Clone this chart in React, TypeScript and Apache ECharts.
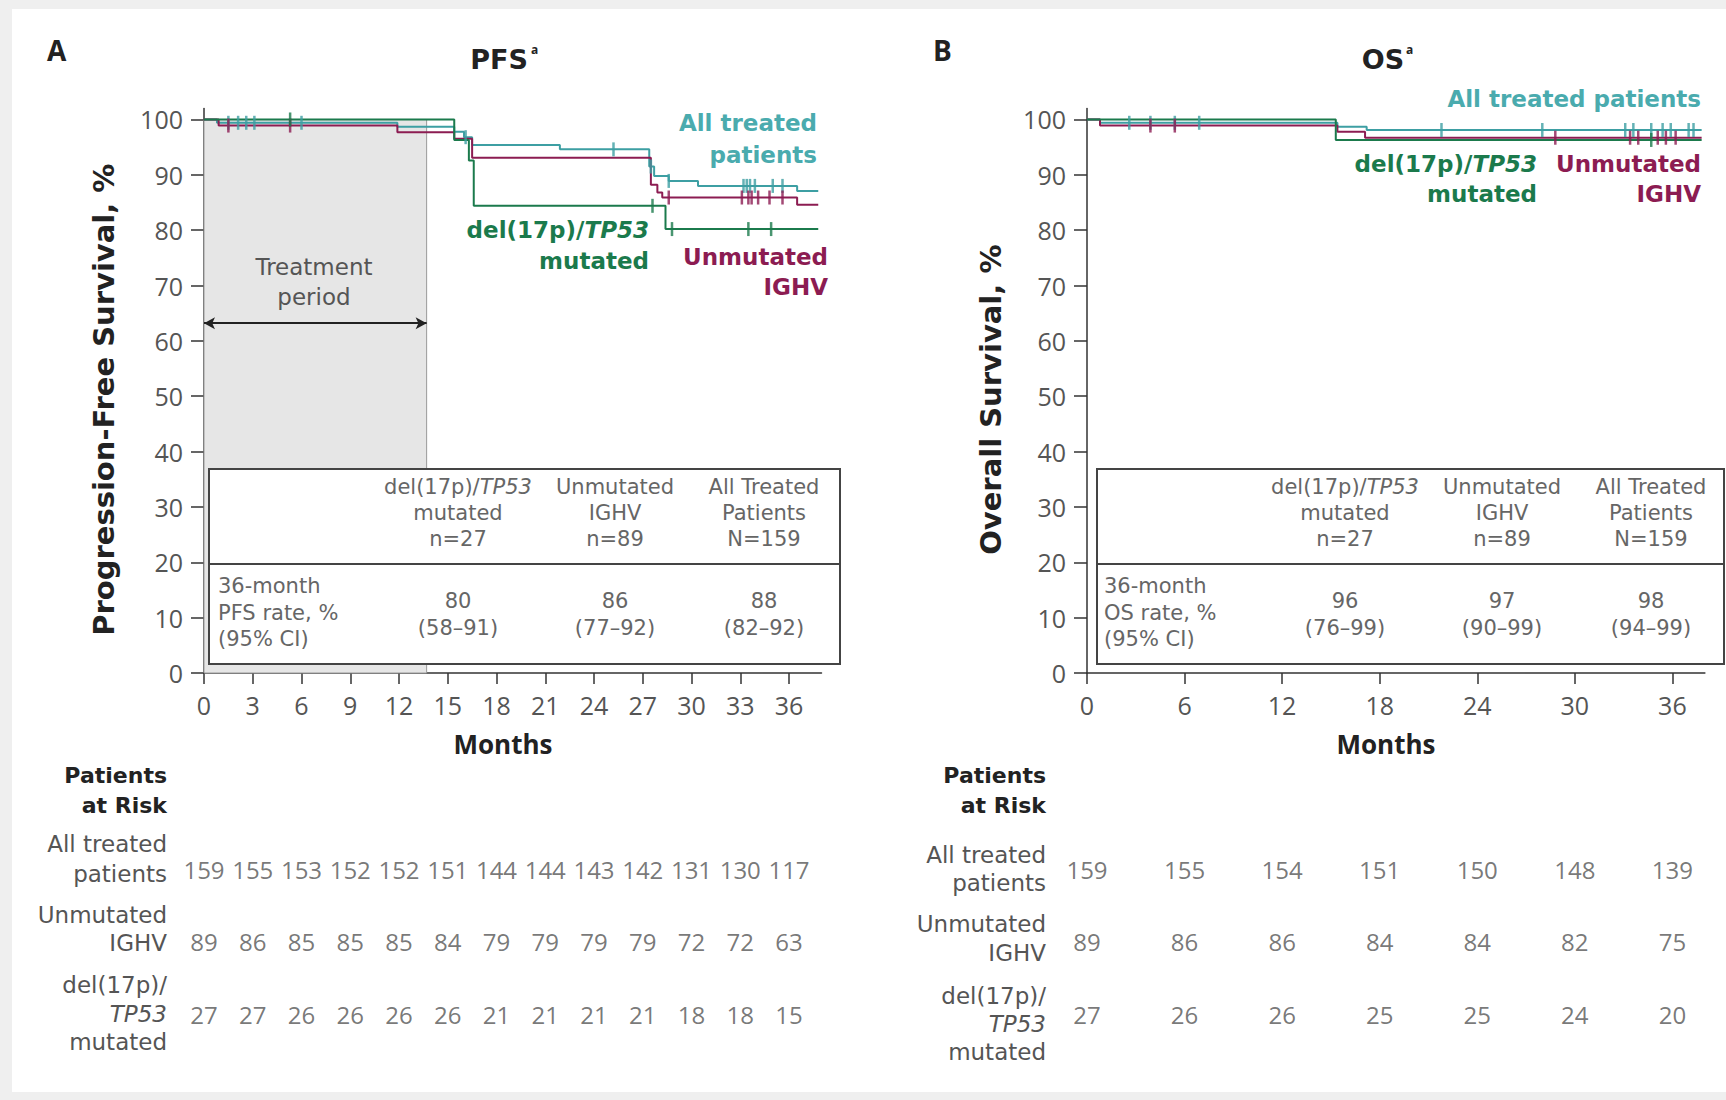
import React, { useEffect, useRef } from "react";
import * as echarts from "echarts";

// ---------- data ----------
const pfsXTicks = [0, 3, 6, 9, 12, 15, 18, 21, 24, 27, 30, 33, 36];
const osXTicks = [0, 6, 12, 18, 24, 30, 36];
const yTicks = [0, 10, 20, 30, 40, 50, 60, 70, 80, 90, 100];

// Kaplan-Meier steps [month, survival %]
const pfsAll = [[0, 100], [0.8, 99.4], [11.9, 98.7], [15.4, 97.8], [16.0, 96.8], [16.5, 95.4], [21.9, 94.6], [27.4, 91.5], [27.7, 89.8], [28.6, 88.9], [30.4, 88.0], [36.5, 87.1], [37.8, 87.1]];
const pfsUnmut = [[0, 100], [0.9, 98.9], [11.9, 97.7], [15.4, 96.5], [16.5, 93.1], [27.5, 88.2], [27.9, 86.8], [28.2, 85.9], [36.5, 84.6], [37.8, 84.6]];
const pfsDel = [[0, 100], [15.4, 96.3], [16.3, 92.6], [16.6, 84.4], [28.4, 80.2], [37.8, 80.2]];

const pfsAllCens = [[1.5, 99.4], [2.1, 99.4], [2.6, 99.4], [3.1, 99.4], [6.0, 99.4], [16.1, 96.8], [25.2, 94.6], [27.5, 91.5], [28.6, 88.9], [33.2, 88.0], [33.4, 88.0], [33.6, 88.0], [33.9, 88.0], [35.0, 88.0], [35.6, 88.0]];
const pfsUnmutCens = [[1.5, 98.9], [5.3, 98.9], [28.6, 85.9], [33.1, 85.9], [33.5, 85.9], [33.7, 85.9], [34.1, 85.9], [34.8, 85.9], [35.6, 85.9]];
const pfsDelCens = [[5.3, 100], [27.6, 84.4], [28.8, 80.2], [33.5, 80.2], [34.9, 80.2]];

const osAll = [[0, 100], [0.8, 99.4], [15.4, 98.7], [17.2, 98.1], [37.8, 98.1]];
const osUnmut = [[0, 100], [0.8, 98.9], [15.4, 97.8], [17.1, 96.7], [37.8, 96.7]];
const osDel = [[0, 100], [15.3, 96.3], [37.8, 96.3]];

const osAllCens = [[2.6, 99.4], [3.9, 99.4], [5.4, 99.4], [6.9, 99.4], [21.8, 98.1], [28.0, 98.1], [33.1, 98.1], [33.6, 98.1], [34.7, 98.1], [35.4, 98.1], [35.9, 98.1], [37.0, 98.1], [37.3, 98.1]];
const osUnmutCens = [[3.9, 98.9], [5.4, 98.9], [28.8, 96.7], [33.4, 96.7], [33.9, 96.7], [35.1, 96.7], [35.6, 96.7], [36.2, 96.7]];
const osDelCens = [[34.7, 96.3]];

const treatmentEnd = 13.7;
const arrowLevel = 63.2;

// patients at risk
const pfsRiskAll = [159, 155, 153, 152, 152, 151, 144, 144, 143, 142, 131, 130, 117];
const pfsRiskUnmut = [89, 86, 85, 85, 85, 84, 79, 79, 79, 79, 72, 72, 63];
const pfsRiskDel = [27, 27, 26, 26, 26, 26, 21, 21, 21, 21, 18, 18, 15];
const osRiskAll = [159, 155, 154, 151, 150, 148, 139];
const osRiskUnmut = [89, 86, 86, 84, 84, 82, 75];
const osRiskDel = [27, 26, 26, 25, 25, 24, 20];

// inset tables
const insetHeaders = [
  "{n|del(17p)/}{i|TP53}\n{n|mutated}\n{n|n=27}",
  "{n|Unmutated}\n{n|IGHV}\n{n|n=89}",
  "{n|All Treated}\n{n|Patients}\n{n|N=159}",
];
const pfsRates = ["80", "86", "88"];
const pfsCIs = ["(58–91)", "(77–92)", "(82–92)"];
const osRates = ["96", "97", "98"];
const osCIs = ["(76–99)", "(90–99)", "(94–99)"];
const pfsRateLabel = "36-month\nPFS rate, %\n(95% CI)";
const osRateLabel = "36-month\nOS rate, %\n(95% CI)";

// ---------- styles ----------
const FF = '"Open Sans", "Liberation Sans", sans-serif';
const FW = '"DejaVu Sans", "Open Sans", sans-serif';
const TEAL = "#3d9fa3";
const TEAL_T = "#4aabae";
const MAG = "#8c1c52";
const GREEN = "#1b7a4c";
const GRAY = "#555555";
const LGRAY = "#666666";
const DARK = "#222222";

function txt(x: number, y: number, text: string, o: any = {}) {
  const size = o.size || 22;
  const lh = o.lh || size;
  const base = {
    fontSize: size,
    fontWeight: o.weight || "normal",
    fontFamily: o.family || FF,
    fill: o.fill || GRAY,
    lineHeight: lh,
  };
  return {
    type: "text",
    x,
    y,
    z: 120,
    style: {
      text,
      ...base,
      fontStyle: o.style || "normal",
      align: o.align || "center",
      verticalAlign: "middle",
      rich: o.rich
        ? { n: { ...base }, i: { ...base, fontStyle: "italic" } }
        : undefined,
    },
  };
}

function inset(x0: number, x1: number, cols: number[], labelX: number, rateLabel: string, rates: string[], cis: string[]) {
  const els: any[] = [];
  const o = { fill: LGRAY, size: 21, family: FW };
  els.push({ type: "rect", z: 110, shape: { x: x0, y: 469, width: x1 - x0, height: 195 }, style: { fill: "#fff", stroke: "#444", lineWidth: 2 } });
  els.push({ type: "line", z: 111, shape: { x1: x0, y1: 564, x2: x1, y2: 564 }, style: { stroke: "#444", lineWidth: 2 } });
  cols.forEach((cx, i) => {
    els.push(txt(cx, 513, insetHeaders[i], { ...o, lh: 26, rich: true }));
    els.push(txt(cx, 614.5, rates[i] + "\n" + cis[i], { ...o, lh: 27 }));
  });
  els.push(txt(labelX, 612.5, rateLabel, { ...o, lh: 26.5, align: "left" }));
  return els;
}

function riskLabels(rx: number, c: number[], lh: number[]) {
  const r = { fill: GRAY, size: 23, align: "right", family: FW };
  return [
    txt(rx, 790, "Patients\nat Risk", { fill: DARK, size: 22, weight: "bold", align: "right", lh: 30, family: FW }),
    txt(rx, c[0], "All treated\npatients", { ...r, lh: lh[0] }),
    txt(rx, c[1], "Unmutated\nIGHV", { ...r, lh: lh[1] }),
    txt(rx, c[2], "{n|del(17p)/}\n{i|TP53}\n{n|mutated}", { ...r, lh: lh[2], rich: true }),
  ];
}

function km(name: string, data: number[][], color: string, ax: number) {
  return {
    name,
    type: "line",
    step: "end",
    xAxisIndex: ax,
    yAxisIndex: ax,
    data,
    showSymbol: false,
    symbol: "none",
    lineStyle: { color, width: 2 },
    z: 3,
  };
}
function cens(data: number[][], color: string, ax: number) {
  return {
    type: "scatter",
    xAxisIndex: ax,
    yAxisIndex: ax,
    data,
    symbol: "rect",
    symbolSize: [2.5, 14],
    itemStyle: { color },
    z: 4,
  };
}
function risk(months: number[], rows: number[][], ax: number) {
  const data: any[] = [];
  rows.forEach((row, ri) => row.forEach((v, i) => data.push([months[i], ri, v])));
  return {
    type: "scatter",
    xAxisIndex: ax,
    yAxisIndex: ax,
    data,
    symbolSize: 1,
    itemStyle: { color: "rgba(0,0,0,0)" },
    label: {
      show: true,
      position: "inside",
      formatter: (p: any) => String(p.value[2]),
      color: GRAY,
      fontSize: 24,
      fontFamily: FF,
    },
  };
}

function mainX(ticks: number[], grid: number) {
  return {
    type: "value",
    gridIndex: grid,
    min: 0,
    max: 38,
    axisLine: { show: true, lineStyle: { color: "#333", width: 1.5 } },
    axisTick: { show: true, length: 11, customValues: ticks, lineStyle: { color: "#333", width: 1.5 } },
    axisLabel: { customValues: ticks, margin: 19, color: GRAY, fontSize: 25, fontFamily: FF },
    splitLine: { show: false },
  };
}
function mainY(grid: number, name: string, gap: number) {
  return {
    type: "value",
    gridIndex: grid,
    min: 0,
    max: 102,
    axisLine: { show: true, lineStyle: { color: "#333", width: 1.5 } },
    axisTick: { show: true, length: 13, customValues: yTicks, lineStyle: { color: "#333", width: 1.5 } },
    axisLabel: { customValues: yTicks, margin: 21, color: GRAY, fontSize: 25, fontFamily: FF },
    splitLine: { show: false },
    name,
    nameLocation: "middle",
    nameGap: gap,
    nameTextStyle: { color: DARK, fontSize: 29, fontWeight: "bold", fontFamily: FW, padding: [0, 18, 0, 0] },
  };
}

export default function App() {
  const ref = useRef<HTMLDivElement>(null);
  useEffect(() => {
    if (!ref.current) return;
    const chart = echarts.init(ref.current, undefined, { renderer: "svg" });
    const boldLbl = (fill: string, lh: number) => ({ fill, size: 23, weight: "bold", align: "right", lh, family: FW });
    const graphic: any[] = [
      { type: "rect", z: -10, shape: { x: 12, y: 9, width: 1714, height: 1083 }, style: { fill: "#ffffff" } },
      txt(47, 50, "A", { fill: DARK, size: 28, weight: "bold", align: "left" }),
      txt(933, 50, "B", { fill: DARK, size: 28, weight: "bold", align: "left" }),
      txt(499, 59, "PFS", { fill: DARK, size: 27, weight: "bold", family: FW }),
      txt(531, 49, "a", { fill: DARK, size: 12, weight: "bold", align: "left" }),
      txt(1383, 59, "OS", { fill: DARK, size: 27, weight: "bold", family: FW }),
      txt(1406, 49, "a", { fill: DARK, size: 12, weight: "bold", align: "left" }),
      txt(314, 282, "Treatment\nperiod", { fill: GRAY, size: 23, lh: 30, family: FW }),
      txt(503, 744, "Months", { fill: DARK, size: 26, weight: "bold" }),
      txt(1386, 744, "Months", { fill: DARK, size: 26, weight: "bold" }),
      // curve labels A
      txt(817, 139, "All treated\npatients", boldLbl(TEAL_T, 32)),
      txt(649, 245.5, "{n|del(17p)/}{i|TP53}\n{n|mutated}", { ...boldLbl(GREEN, 31), rich: true }),
      txt(828, 272, "Unmutated\nIGHV", boldLbl(MAG, 30)),
      // curve labels B
      txt(1701, 99, "All treated patients", boldLbl(TEAL_T, 30)),
      txt(1537, 179, "{n|del(17p)/}{i|TP53}\n{n|mutated}", { ...boldLbl(GREEN, 30), rich: true }),
      txt(1701, 179, "Unmutated\nIGHV", boldLbl(MAG, 30)),
      ...inset(209, 840, [458, 615, 764], 218, pfsRateLabel, pfsRates, pfsCIs),
      ...inset(1097, 1724, [1345, 1502, 1651], 1104, osRateLabel, osRates, osCIs),
      ...riskLabels(167, [859, 928.5, 1013.5], [30, 28, 28.5]),
      ...riskLabels(1046, [869, 938.5, 1024], [28, 29, 28]),
    ];

    const option: any = {
      animation: false,
      backgroundColor: "#efefef",
      textStyle: { fontFamily: FF },
      grid: [
        { left: 204, top: 108.4, width: 617.5, height: 564.6 },
        { left: 1087, top: 108.4, width: 617.9, height: 564.6 },
        { left: 204, top: 833, width: 617.5, height: 217.5 },
        { left: 1087, top: 833, width: 617.9, height: 217.5 },
      ],
      xAxis: [
        mainX(pfsXTicks, 0),
        mainX(osXTicks, 1),
        { type: "value", gridIndex: 2, min: 0, max: 38, show: false },
        { type: "value", gridIndex: 3, min: 0, max: 38, show: false },
      ],
      yAxis: [
        mainY(0, "Progression-Free Survival, %", 86),
        mainY(1, "Overall Survival, %", 82),
        { type: "category", gridIndex: 2, inverse: true, data: ["all", "unmut", "del"], show: false },
        { type: "category", gridIndex: 3, inverse: true, data: ["all", "unmut", "del"], show: false },
      ],
      graphic,
      series: [
        {
          type: "line",
          xAxisIndex: 0,
          yAxisIndex: 0,
          data: [],
          z: 1,
          silent: true,
          markArea: {
            silent: true,
            itemStyle: { color: "#e6e6e6", borderColor: "#9a9a9a", borderWidth: 1 },
            data: [[{ coord: [0, 0] }, { coord: [treatmentEnd, 100] }]],
          },
          markLine: {
            silent: true,
            symbol: ["arrow", "arrow"],
            symbolSize: [9, 11],
            label: { show: false },
            lineStyle: { color: "#222", width: 1.8, type: "solid" },
            data: [[{ coord: [0, arrowLevel] }, { coord: [treatmentEnd, arrowLevel] }]],
          },
        },
        km("All treated patients", pfsAll, TEAL, 0),
        km("Unmutated IGHV", pfsUnmut, MAG, 0),
        km("del(17p)/TP53 mutated", pfsDel, GREEN, 0),
        cens(pfsAllCens, TEAL, 0),
        cens(pfsUnmutCens, MAG, 0),
        cens(pfsDelCens, GREEN, 0),
        km("All treated patients", osAll, TEAL, 1),
        km("Unmutated IGHV", osUnmut, MAG, 1),
        km("del(17p)/TP53 mutated", osDel, GREEN, 1),
        cens(osAllCens, TEAL, 1),
        cens(osUnmutCens, MAG, 1),
        cens(osDelCens, GREEN, 1),
        risk(pfsXTicks, [pfsRiskAll, pfsRiskUnmut, pfsRiskDel], 2),
        risk(osXTicks, [osRiskAll, osRiskUnmut, osRiskDel], 3),
      ],
    };
    chart.setOption(option);
    return () => chart.dispose();
  }, []);
  return (
    <div
      ref={ref}
      style={{ position: "absolute", left: 0, top: 0, width: 1726, height: 1100 }}
    />
  );
}
